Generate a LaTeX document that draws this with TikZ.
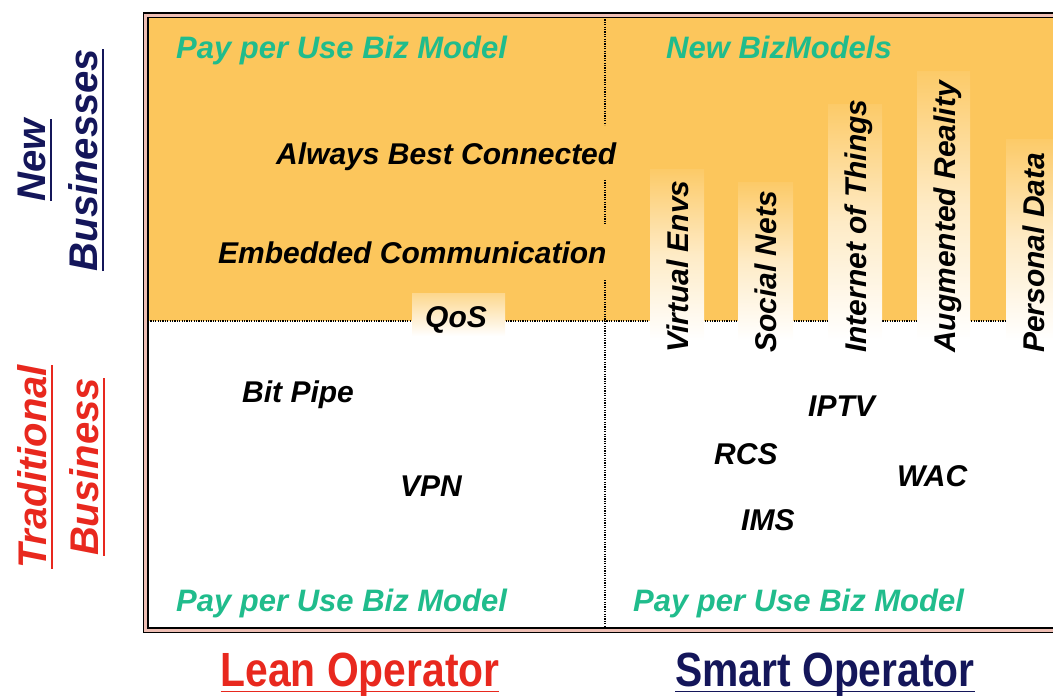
\documentclass[tikz,border=0pt]{standalone}
\usepackage{fontspec}
\setmainfont{Liberation Sans}
\newfontfamily\condfont[FakeStretch=0.85]{Liberation Sans}
\usetikzlibrary{calc}
\definecolor{orangebg}{RGB}{252,198,92}
\definecolor{bizgreen}{RGB}{32,188,140}
\definecolor{navy}{RGB}{20,22,90}
\definecolor{redlbl}{RGB}{232,40,30}
\definecolor{salmon}{RGB}{238,190,180}
\newcommand\myul[1]{\leavevmode\setbox0\hbox{#1}\rlap{\vrule width\wd0 height -4.5pt depth 6.2pt}\box0}
\tikzset{
  txt/.style={font=\fontsize{30}{36}\selectfont\bfseries\itshape, inner sep=0pt, anchor=base west, text=black},
  greentxt/.style={txt, text=bizgreen, font=\fontsize{31}{36}\selectfont\bfseries\itshape},
  vtxt/.style={txt, rotate=90},
  sidelbl/.style={font=\fontsize{40}{52}\selectfont\bfseries\itshape, rotate=90, align=center, inner sep=0pt},
  botlbl/.style={font=\condfont\fontsize{48}{52}\selectfont\bfseries, inner sep=0pt, anchor=base},
  dotl/.style={line width=1.2pt, dash pattern=on 1.2pt off 1.2pt, black},
  colbox/.style={top color=orangebg!92!white, bottom color=white, middle color=orangebg!35!white, draw=none}
}
\begin{document}
\begin{tikzpicture}[x=1pt,y=-1pt]
\useasboundingbox (0,0) rectangle (1053,698);
\clip (0,0) rectangle (1053,698);
% orange upper region
\fill[orangebg] (148,17) rectangle (1060,321);
% horizontal dotted divider
\draw[dotl] (148,321) -- (1060,321);
% column highlight boxes
\shade[colbox] (650,170) rectangle (704,340);
\shade[colbox] (738,183) rectangle (793,340);
\shade[colbox] (828,105) rectangle (882,340);
\shade[colbox] (917,72) rectangle (970,340);
\shade[colbox] (1006,140) rectangle (1060,340);
\shade[top color=orangebg!70!white, bottom color=white] (412,293) rectangle (505,336);
% vertical dotted divider
\coordinate (d0) at (605,17);
\coordinate (d1) at (605,125);
\coordinate (d2) at (605,180);
\coordinate (d3) at (605,225);
\coordinate (d4) at (605,280);
\coordinate (d5) at (605,628);
\draw[dotl] (d0) -- (d1);
\draw[dotl] (d2) -- (d3);
\draw[dotl] (d4) -- (d5);
% frame
\draw[salmon, line width=3.5pt] (145.75,15) rectangle (1070,630);
\draw[black, line width=1.6pt] (143.5,12.8) rectangle (1072,632.3);
\draw[black, line width=1.3pt] (148,17.2) rectangle (1068,628);
% green texts
\node[greentxt] (ppu1) at (176,59) {Pay per Use Biz Model};
\node[greentxt] (nbm) at (666,59) {New BizModels};
\node[greentxt] (ppu2) at (176,611) {Pay per Use Biz Model};
\node[greentxt] (ppu3) at (633,611) {Pay per Use Biz Model};
% black texts
\node[txt] (abc) at (276,165) {Always Best Connected};
\node[txt] (emb) at (218,263) {Embedded Communication};
\node[txt] (qos) at (425,327) {QoS};
\node[txt] (bit) at (242,402) {Bit Pipe};
\node[txt] (vpn) at (400,496) {VPN};
\node[txt] (iptv) at (808,416) {IPTV};
\node[txt] (rcs) at (714,464) {RCS};
\node[txt] (wac) at (897,486) {WAC};
\node[txt] (ims) at (741,530) {IMS};
% vertical texts
\node[vtxt] (ve) at (688,353) {Virtual Envs};
\node[vtxt] (sn) at (776,353) {Social Nets};
\node[vtxt] (iot) at (866,353) {Internet of Things};
\node[vtxt] (ar) at (955,353) {Augmented Reality};
\node[vtxt] (pd) at (1044,353) {Personal Data};
% side labels
\node[sidelbl, text=navy] (newb) at (61,160) {\myul{New}\\\myul{Businesses}};
\node[sidelbl, text=redlbl] (tradb) at (61,467) {\myul{Traditional}\\\myul{Business}};
% bottom labels
\node[botlbl, text=redlbl] (lean) at (360,686) {\myul{Lean Operator}};
\node[botlbl, text=navy] (smart) at (825,686) {\myul{Smart Operator}};
\end{tikzpicture}
\end{document}
